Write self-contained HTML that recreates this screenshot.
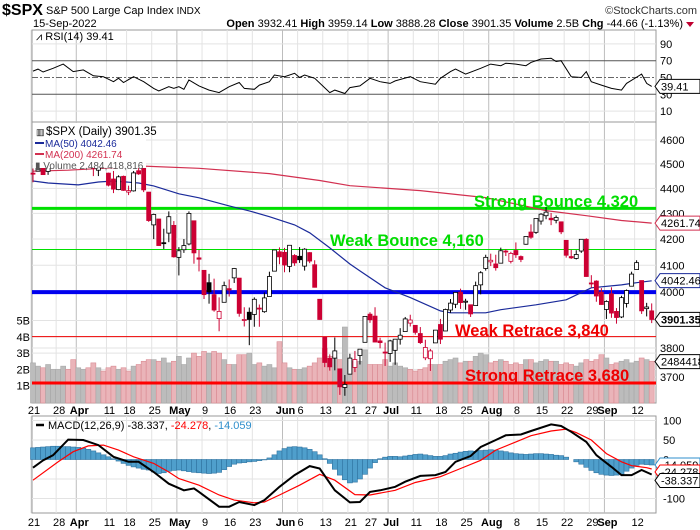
<!DOCTYPE html>
<html><head><meta charset="utf-8"><style>
body{margin:0;background:#fff;width:700px;height:530px;overflow:hidden;font-family:"Liberation Sans",Arial,sans-serif}
svg{display:block}
text{font-family:"Liberation Sans",Arial,sans-serif}
</style></head><body>
<svg id="chart" width="700" height="530" viewBox="0 0 700 530" xmlns="http://www.w3.org/2000/svg">
<text x="2" y="15" font-size="16" font-weight="bold">$SPX</text>
<text x="46" y="14" font-size="11">S&amp;P 500 Large Cap Index <tspan font-size="10">INDX</tspan></text>
<text x="697" y="14" font-size="11" text-anchor="end" fill="#333">©StockCharts.com</text>
<text x="33" y="27" font-size="11">15-Sep-2022</text>
<text x="683" y="27" font-size="11" text-anchor="end"><tspan font-weight="bold">Open</tspan> 3932.41 <tspan font-weight="bold">High</tspan> 3959.14 <tspan font-weight="bold">Low</tspan> 3888.28 <tspan font-weight="bold">Close</tspan> 3901.35 <tspan font-weight="bold">Volume</tspan> 2.5B <tspan font-weight="bold">Chg</tspan> -44.66 (-1.13%)</text>
<polygon points="686,22 694,22 690,27" fill="#c00030"/>
<g id="grid"></g>
<g id="vol"></g>
<g id="lines"></g>
<g id="candles"></g>
<g id="over"></g>
</svg>
<script>
// ---- data ----
const opens=[4462,4470,4493,4469,4523,4541,4603,4624,4599,4540,4547,4572,4494,4474,4494,4462,4438,4395,4449,4385,4390,4472,4489,4385,4255,4278,4186,4223,4253,4130,4159,4181,4271,4128,4081,4035,3991,3904,3963,4013,4053,4052,3900,3927,3919,3942,3929,3984,4078,4151,4149,4096,4137,4134,4097,4148,4102,3974,3838,3764,3765,3728,3665,3710,3733,3774,3820,3920,3913,3825,3786,3781,3792,3831,3858,3888,3880,3851,3766,3763,3818,3883,3860,3935,3956,4000,3966,3954,3951,4027,4088,4113,4105,4108,4154,4115,4156,4133,4180,4227,4226,4270,4291,4281,4273,4267,4195,4133,4126,4154,4199,4034,4041,4000,3937,3994,3930,3910,3959,4022,4084,4043,3940,3932];
const highs=[4481,4522,4501,4520,4546,4575,4637,4627,4604,4549,4583,4593,4503,4521,4521,4464,4471,4453,4452,4411,4471,4489,4513,4385,4299,4278,4240,4308,4270,4169,4200,4308,4271,4158,4081,4068,4050,3981,4039,4047,4090,4052,3945,3944,3981,3955,3999,4076,4158,4168,4166,4177,4142,4169,4165,4150,4119,3974,3838,3778,3837,3728,3707,3780,3790,3796,3913,3927,3945,3836,3819,3829,3832,3870,3910,3918,3880,3874,3829,3797,3863,3903,3940,3975,3999,4013,3976,3954,4039,4078,4140,4144,4140,4167,4161,4151,4187,4137,4211,4257,4280,4301,4325,4302,4292,4267,4195,4159,4157,4200,4203,4063,4044,4015,3970,4018,3942,3987,4010,4076,4119,4043,3961,3959];
const lows=[4425,4469,4455,4455,4501,4518,4589,4581,4530,4507,4540,4514,4450,4450,4481,4408,4381,4393,4390,4373,4387,4455,4385,4267,4200,4175,4162,4188,4129,4062,4147,4176,4106,4077,3975,3958,3929,3859,3963,3984,4034,3911,3876,3810,3875,3875,3925,3984,4078,4104,4074,4074,4098,4109,4080,4108,4017,3900,3734,3722,3723,3640,3637,3710,3717,3743,3820,3889,3820,3799,3738,3752,3742,3812,3858,3876,3847,3814,3758,3721,3818,3814,3860,3925,3942,3939,3936,3910,3951,3992,4080,4097,4080,4108,4135,4107,4128,4112,4178,4201,4220,4256,4277,4254,4261,4219,4129,4124,4122,4147,4057,4017,3965,3954,3903,3907,3886,3906,3944,4022,4084,3921,3912,3888];
const closes=[4461,4512,4456,4520,4543,4575,4632,4602,4530,4545,4583,4525,4481,4500,4488,4413,4397,4447,4392,4391,4463,4459,4394,4272,4296,4175,4183,4287,4132,4155,4175,4300,4147,4123,3991,4001,3935,3930,4024,4008,4088,3923,3901,3901,3974,3941,3979,4058,4158,4132,4101,4176,4109,4121,4161,4116,4018,3901,3750,3735,3790,3667,3675,3765,3760,3796,3912,3900,3821,3819,3785,3825,3831,3845,3903,3899,3855,3819,3802,3790,3863,3831,3937,3960,3999,3962,3967,3921,4024,4072,4130,4119,4091,4155,4152,4145,4140,4122,4210,4207,4280,4297,4305,4275,4284,4228,4138,4128,4141,4199,4058,4031,3986,3955,3966,3924,3908,3980,4006,4067,4110,3932,3946,3901];
const volumeB=[2.4,2.2,2.1,2.3,2.0,2.0,2.2,2.0,2.6,2.1,2.0,2.1,2.4,2.1,1.9,2.1,2.2,2.0,2.1,1.9,2.2,2.3,2.5,2.6,2.6,2.5,2.7,2.4,2.5,2.8,2.3,2.7,3.0,2.8,3.1,3.0,3.1,3.0,2.6,2.3,2.3,2.9,2.9,3.0,2.3,2.4,2.2,2.3,2.1,3.7,2.4,2.1,2.0,2.0,2.1,2.2,2.4,2.7,3.3,2.8,2.7,2.6,4.6,2.5,2.4,2.5,3.2,2.3,2.3,2.3,2.6,2.2,2.4,2.2,2.1,2.0,1.9,2.0,2.1,2.3,2.3,2.3,2.5,2.6,2.7,2.4,2.5,2.5,2.8,3.0,2.9,2.4,2.5,2.6,2.5,2.3,2.4,2.3,2.6,2.6,2.4,2.5,2.6,2.5,2.5,2.3,2.4,2.3,2.2,2.4,2.6,2.5,2.6,2.9,2.7,2.3,2.4,2.5,2.6,2.4,2.5,2.7,2.6,2.5];
const ma50Day=[0,3,9,13,16,21,24,29,33,39,43,47,52,55,59,63,65,70,75,81,83,90,93,100,106,111,117,120,123];
const ma50Val=[4430,4422,4414,4426,4430,4422,4410,4378,4362,4330,4310,4287,4255,4224,4166,4105,4079,4016,3980,3932,3925,3925,3936,3954,3972,4016,4027,4035,4042];
const ma200Day=[0,7,22,33,47,57,63,77,90,102,110,117,123];
const ma200Val=[4470,4474,4491,4482,4460,4432,4411,4391,4363,4311,4291,4272,4262];
const rsiDay=[0,1,2,4,6,8,10,12,14,16,17,18,20,22,24,25,27,28,29,30,31,33,35,37,39,41,42,44,45,47,48,50,52,53,54,56,59,60,62,63,65,67,69,71,72,75,77,80,81,83,84,86,89,91,93,94,96,98,99,101,103,104,105,107,109,110,111,113,115,117,118,121,122,123];
const rsiVal=[57.6,60,56.5,61,66,57,59,52,51,45,49,44,51,45,37,34,39,37,39,36,47,40,35,32,39,44,37,36,41,45,53,51,55,50,53,49,32,35,31,38,40,49,45,43,46,51,45,42,49,57,60,54,61,66,64,67,66,64,68,72,73,69,70,51,50,57,45,41,37,35,43,54,43,39.41];
const macdDay=[0,2,4,7,10,13,16,19,21,24,27,30,32,33,37,39,41,44,46,49,52,55,57,60,63,65,67,69,72,74,77,80,82,84,87,89,92,94,97,99,103,105,107,110,112,115,117,119,121,123];
const macdVal=[-21,-2,11,51,50,37,7,-6,-6,-32,-62,-79,-74,-83,-121,-121,-109,-117,-104,-70,-40,-17,-23,-79,-110,-109,-83,-79,-70,-57,-42,-40,-32,-6,9,32,50,62,64,73,90,86,71,45,11,-19,-40,-40,-27,-38.337];
const sigDay=[0,5,8,11,14,17,20,24,27,29,33,37,40,44,46,49,53,57,60,64,67,72,76,81,85,89,92,96,99,103,106,108,111,114,117,119,122,123];
const sigVal=[-53,-6,20,35,37,24,7,-10,-32,-49,-66,-91,-104,-111,-109,-91,-66,-38,-53,-90,-91,-79,-59,-44,-23,-2,24,45,61,73,78,69,50,15,-6,-16,-21,-24.278];
const histVal=[30,31,32,33,34,34,33,33,32,31,29,26,22,17,12,7,2,-4,-10,-15,-19,-22,-25,-27,-32,-36,-34,-30,-28,-27,-29,-31,-33,-34,-35,-36,-35,-33,-26,-18,-12,-9,-8,-6,-5,-3,-1,4,12,22,28,32,33,32,30,26,20,12,2,-10,-25,-40,-52,-60,-58,-50,-38,-22,-8,2,6,8,8,7,9,11,13,14,12,10,8,8,10,14,16,19,21,22,21,23,24,25,24,22,20,17,15,14,13,14,15,15,14,13,11,10,6,0,-6,-12,-20,-28,-34,-38,-40,-41,-40,-38,-30,-22,-15,-12,-13,-14.059];
const priceTicks=[4600,4500,4400,4300,4200,4100,4000,3800,3700];
const volTicks=[1,2,3,4,5];
const rsiTicks=[90,70,50,30,10];
const macdTicks=[100,50,0,-100];
const dateLabels=["21","28","Apr","11","18","25","May","9","16","23","Jun","6","13","21","27","Jul","11","18","25","Aug","8","15","22","29","Sep","12"];
const dateLabelDay=[0,5,9,15,19,24,29,34,39,44,50,53,58,63,67,71,76,81,86,91,96,101,106,111,114,120];
const monthLabels=["Apr","May","Jun","Jul","Aug","Sep"];
const levelVals=[4320,4160,4000,3840,3680];
const levelText=["Strong Bounce 4,320","Weak Bounce 4,160","","Weak Retrace 3,840","Strong Retrace 3,680"];

// ---- scales ----
const L=32,R=656;
const X=i=>33+5.03*i;
const PY=p=>9324.4-1089*Math.log(p);
const VY=v=>402-16.3*v;
const RY=v=>94.3-(v-30)*0.84;
const MY=v=>459.5-v*0.39;
const NS="http://www.w3.org/2000/svg";
function mk(parent,tag,attrs){const e=document.createElementNS(NS,tag);for(const k in attrs)e.setAttribute(k,attrs[k]);document.getElementById(parent).appendChild(e);return e;}

// panels & grid
const panels=[[30,122,'rsi-panel'],[122,403,'price-panel'],[416,513,'macd-panel']];
panels.forEach(p=>{
  const r=mk('grid','rect',{x:L,y:p[0],width:R-L,height:p[1]-p[0],fill:'#fff',stroke:'#999'});
  
  
});
dateLabelDay.forEach((d,k)=>{
  const isM=monthLabels.includes(dateLabels[k]);
  panels.forEach(p=>{
    const g=mk('grid','line',{x1:X(d)-2,x2:X(d)-2,y1:p[0],y2:p[1],stroke:isM?'#bdbdbd':'#e3e3e3'});
    
    
  });
  [410,522].forEach(y=>{
    const t=mk('grid','text',{x:X(d)+1,y:y+4,'font-size':11,'text-anchor':'middle','font-weight':isM?'bold':'normal'});
    t.textContent=dateLabels[k];
    
    
  });
});
priceTicks.forEach(p=>{
  const g=mk('grid','line',{x1:L,x2:R,y1:PY(p),y2:PY(p),stroke:'#e3e3e3'});
  
  
  const t=mk('grid','text',{x:660,y:PY(p)+4,'font-size':11});
  t.textContent=p;
  
  
});
[4400,4200,4100,3900].forEach(p=>{});
volTicks.forEach(v=>{
  const t=mk('grid','text',{x:30,y:VY(v)+4,'font-size':11,'text-anchor':'end'});
  t.textContent=v+'B';
  
  
  const g=mk('grid','line',{x1:L,x2:R,y1:VY(v),y2:VY(v),stroke:'#e3e3e3'});
  
  
});
rsiTicks.forEach(v=>{
  const main=(v===70||v===30);
  const g=mk('grid','line',{x1:L,x2:R,y1:RY(v),y2:RY(v),stroke:main?'#555':(v===50?'#666':'#e3e3e3'),'stroke-dasharray':v===50?'6,2,2,2':'none'});
  
  
  const t=mk('grid','text',{x:660,y:RY(v)+4,'font-size':11});
  t.textContent=v;
  
  
});
[100,50,-50,-100].forEach(v=>{
  const g=mk('grid','line',{x1:L,x2:R,y1:MY(v),y2:MY(v),stroke:'#e3e3e3'});
  
  
});
macdTicks.forEach(v=>{
  const t=mk('grid','text',{x:663,y:MY(v)+4,'font-size':11});
  t.textContent=v;
  
  
});

// volume
volumeB.forEach((v,i)=>{
  const down=i>0&&closes[i]<closes[i-1];
  const b=mk('vol','rect',{x:X(i)-2.5,y:VY(v),width:5,height:403-VY(v),fill:down?'#eab4b9':'#bcbcbc',stroke:down?'#d98a92':'#a8a8a8','stroke-width':0.6});
  
  
});

// horizontal levels
const lvlStyle=[['#00e000',3],['#00e000',1],['#0000ee',4],['#ee0000',1],['#ff0000',3]];
levelVals.forEach((p,k)=>{
  const l=mk('lines','line',{x1:L,x2:R,y1:PY(p),y2:PY(p),stroke:lvlStyle[k][0],'stroke-width':lvlStyle[k][1]});
  
  
});

// moving averages
function poly(parent,days,vals,yf,color,w,name){
  const pts=days.map((d,k)=>X(d).toFixed(1)+','+yf(vals[k]).toFixed(1)).join(' ');
  const e=mk(parent,'polyline',{points:pts,fill:'none',stroke:color,'stroke-width':w});
  
  
}
poly('lines',ma200Day,ma200Val,PY,'#d23050',1.2,'ma200-line');
poly('lines',ma50Day,ma50Val,PY,'#1a2a9a',1.2,'ma50-line');

// candles
closes.forEach((c,i)=>{
  const o=opens[i];
  const red=i>0?c<closes[i-1]:c<o;
  const col=red?'#cc0033':'#000';
  const hollow=c>=o;
  const w=mk('candles','line',{x1:X(i),x2:X(i),y1:PY(highs[i]),y2:PY(lows[i]),stroke:col,'stroke-width':1});
  
  
  const top=PY(Math.max(o,c)),bot=PY(Math.min(o,c));
  const b=mk('candles','rect',{x:X(i)-2,y:top,width:4,height:Math.max(1,bot-top),fill:hollow?'#fff':col,stroke:col,'stroke-width':0.8});
  
  
});

// level labels
const lvlPos=[[474,207,'#00dd00'],[330,246,'#00dd00'],null,[455,336,'#ee0000'],[465,381,'#ee0000']];
levelText.forEach((s,k)=>{
  if(!s)return;
  const t=mk('over','text',{x:lvlPos[k][0],y:lvlPos[k][1],'font-size':16.5,'font-weight':'bold',fill:lvlPos[k][2]});
  t.textContent=s;
  
  
});

// RSI
poly('over',rsiDay,rsiVal,RY,'#000',1,'rsi-line');
// MACD hist
histVal.forEach((v,i)=>{
  const y0=MY(0),y1=MY(v);
  const b=mk('over','rect',{x:X(i)-2.5,y:Math.min(y0,y1),width:5,height:Math.abs(y1-y0),fill:'#4f9fcc',stroke:'#2f73a0','stroke-width':0.6});
  
  
});
poly('over',sigDay,sigVal,MY,'#ff0000',1.2,'macd-signal-line');
poly('over',macdDay,macdVal,MY,'#000',2,'macd-line');

// legends
function txt(x,y,s,attrs,name){const t=mk('over','text',Object.assign({x:x,y:y,'font-size':11},attrs||{}));t.textContent=s;return t;}
const lg=mk('over','rect',{x:33,y:123,width:113,height:45,fill:'#fff'});


txt(46,135,'$SPX (Daily) 3901.35',{'font-size':11.5},'price-legend-title');
txt(36,135,'▥',{'font-size':9},'price-legend-icon');
const l1=mk('over','line',{x1:35,x2:44,y1:143,y2:143,stroke:'#1a2a9a','stroke-width':2});


txt(45,147,'MA(50) 4042.46',{fill:'#1a2a9a','font-size':10},'ma50-legend');
const l2=mk('over','line',{x1:35,x2:44,y1:154,y2:154,stroke:'#d23050','stroke-width':2});


txt(45,158,'MA(200) 4261.74',{fill:'#d23050','font-size':10},'ma200-legend');
txt(35,169,'▮ Volume 2,484,418,816',{fill:'#555','font-size':10},'volume-legend');
txt(36,40,'⩘ RSI(14) 39.41',{'font-size':11},'rsi-legend');
const ml=mk('over','line',{x1:36,x2:44,y1:425,y2:425,stroke:'#000','stroke-width':2.5});


const mt=txt(48,429,'',{},'macd-legend');
mt.innerHTML='<tspan>MACD(12,26,9) -38.337, </tspan><tspan fill="#ff0000">-24.278</tspan><tspan>, </tspan><tspan fill="#2f8fcc">-14.059</tspan>';

// value tags
function tag(y,s,color,bold,name){
  const p=mk('over','path',{d:`M655,${y} L660,${y-7} L700,${y-7} L700,${y+7} L660,${y+7} Z`,fill:'#fff',stroke:color,'stroke-width':1});
  
  
  txt(661,y+4,s,{fill:'#000','font-size':11,'font-weight':bold?'bold':'normal'},name+'-value');
}
tag(PY(4261.74),'4261.74','#d23050',false,'ma200');
tag(PY(4042.46),'4042.46','#1a2a9a',false,'ma50');
tag(PY(3901.35),'3901.35','#000',true,'close');
tag(VY(2.48),'2484418','#000',false,'volume');
tag(RY(39.41),'39.41','#000',false,'rsi');
tag(MY(-14.059),'-14.059','#2f8fcc',false,'macd-hist');
tag(MY(-24.278)+3,'-24.278','#ff0000',false,'macd-signal');
tag(MY(-38.337)+6,'-38.337','#000',false,'macd');
</script>
</body></html>
